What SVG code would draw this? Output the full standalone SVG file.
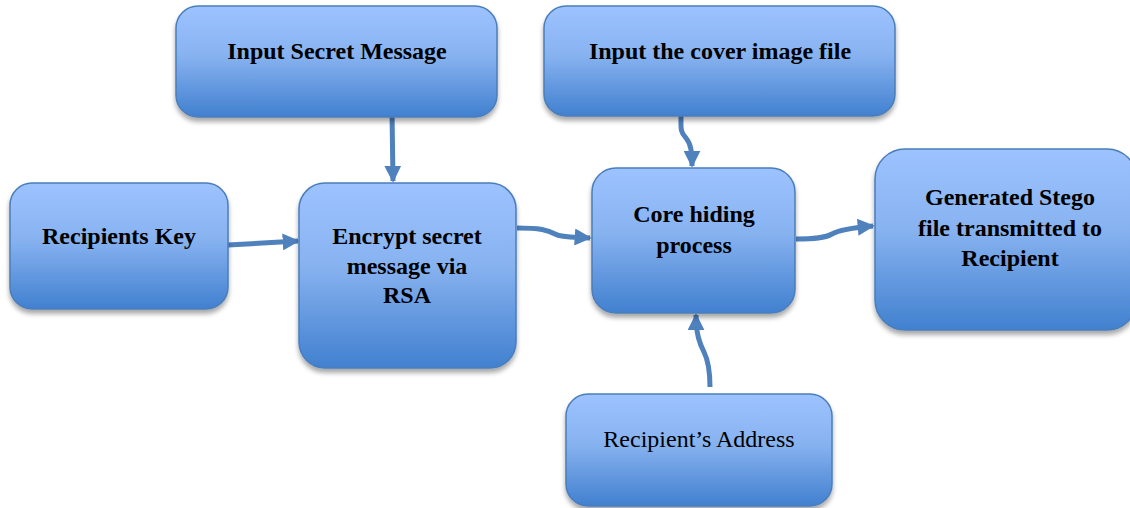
<svg xmlns="http://www.w3.org/2000/svg" width="1130" height="508" viewBox="0 0 1130 508">
  <style>
    .box { fill: url(#boxFill); stroke: #4A7EBB; stroke-width: 1.5; filter: url(#shadow); }
    .lbl { font-family: "Liberation Serif", "Times New Roman", serif; font-size: 24px; font-weight: bold; fill: #000; text-anchor: middle; }
    .lbl-r { font-family: "Liberation Serif", "Times New Roman", serif; font-size: 24px; fill: #000; text-anchor: middle; }
    .conn { fill: none; stroke: #4F81BD; stroke-width: 5; marker-end: url(#arrow); }
  </style>
  <defs>
    <linearGradient id="boxFill" x1="0" y1="0" x2="0" y2="1">
      <stop offset="0" stop-color="#9DC3FF"/>
      <stop offset="0.45" stop-color="#87B2F0"/>
      <stop offset="1" stop-color="#4180CF"/>
    </linearGradient>
    <filter id="shadow" x="-10%" y="-10%" width="120%" height="130%">
      <feGaussianBlur in="SourceAlpha" stdDeviation="2.5"/>
      <feOffset dx="0" dy="4" result="b"/>
      <feComponentTransfer><feFuncA type="linear" slope="0.35"/></feComponentTransfer>
      <feMerge><feMergeNode/><feMergeNode in="SourceGraphic"/></feMerge>
    </filter>
    <marker id="arrow" viewBox="0 0 10 10" refX="9" refY="5" markerWidth="3.4" markerHeight="3.4" orient="auto" markerUnits="strokeWidth">
      <path d="M0,0 L10,5 L0,10 z" fill="#4F81BD"/>
    </marker>
  </defs>

  <!-- connectors -->
  <g id="connectors">
    <path class="conn" d="M392,112 L393,181"/>
    <path class="conn" d="M228,245 L298,241"/>
    <path class="conn" d="M517,228 C540,228 548,230 555,234 C562,238 575,237 590,238"/>
    <path class="conn" d="M681,116 C681,128 680,132 686,138 C691,144 692,152 692,166"/>
    <path class="conn" d="M796,239 C815,239 825,238 832,234 C839,230 850,228 873,226"/>
    <path class="conn" d="M710,387 C710,372 708,360 704,352 C700,344 696,335 696,315"/>
  </g>

  <g id="n-secret">
    <rect class="box" x="176" y="6" width="321" height="111" rx="22"/>
    <text class="lbl" x="337" y="59">Input Secret Message</text>
  </g>
  <g id="n-cover">
    <rect class="box" x="544" y="6" width="351" height="110" rx="22"/>
    <text class="lbl" x="720" y="59">Input the cover image file</text>
  </g>
  <g id="n-key">
    <rect class="box" x="10" y="183" width="218" height="126" rx="22"/>
    <text class="lbl" x="119" y="244">Recipients Key</text>
  </g>
  <g id="n-encrypt">
    <rect class="box" x="299" y="183" width="217" height="185" rx="26"/>
    <text class="lbl" x="407" y="244">Encrypt secret</text>
    <text class="lbl" x="407" y="274">message via</text>
    <text class="lbl" x="407" y="303">RSA</text>
  </g>
  <g id="n-core">
    <rect class="box" x="592" y="168" width="203" height="145" rx="24"/>
    <text class="lbl" x="694" y="222">Core hiding</text>
    <text class="lbl" x="694" y="253">process</text>
  </g>
  <g id="n-stego">
    <rect class="box" x="875" y="149" width="262" height="181" rx="30"/>
    <text class="lbl" x="1010" y="205">Generated Stego</text>
    <text class="lbl" x="1010" y="236">file transmitted to</text>
    <text class="lbl" x="1010" y="266">Recipient</text>
  </g>
  <g id="n-address">
    <rect class="box" x="566" y="394" width="266" height="112" rx="22"/>
    <text class="lbl-r" x="699" y="447">Recipient’s Address</text>
  </g>
</svg>
